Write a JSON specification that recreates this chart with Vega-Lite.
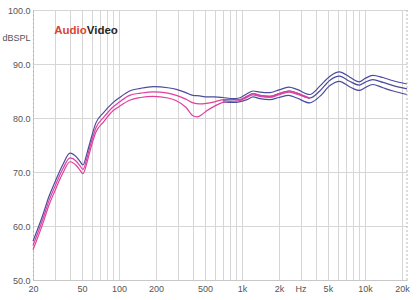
{
  "$schema": "https://vega.github.io/schema/vega-lite/v6.json",
  "width": 374,
  "height": 270,
  "autosize": "none",
  "padding": {"left": 33, "top": 10, "right": 13, "bottom": 20},
  "background": "white",
  "config": {
    "view": {"stroke": null},
    "axis": {"labelFont": "Liberation Sans", "labelFontSize": 9, "labelColor": "#555555", "ticks": false, "title": null, "gridColor": "#d6d6d6", "gridWidth": 1}
  },
  "datasets": {
    "navy": [
      {"f": 20, "db": 57.2, "s": "U"}, {"f": 24, "db": 62.0, "s": "U"}, {"f": 27, "db": 65.5, "s": "U"},
      {"f": 30, "db": 68.0, "s": "U"}, {"f": 35, "db": 71.4, "s": "U"}, {"f": 40, "db": 73.5, "s": "U"},
      {"f": 45, "db": 72.8, "s": "U"}, {"f": 48, "db": 72.0, "s": "U"}, {"f": 51, "db": 71.3, "s": "U"},
      {"f": 55, "db": 73.5, "s": "U"}, {"f": 58, "db": 75.4, "s": "U"}, {"f": 65, "db": 79.1, "s": "U"},
      {"f": 75, "db": 81.0, "s": "U"}, {"f": 89, "db": 82.8, "s": "U"}, {"f": 100, "db": 83.7, "s": "U"},
      {"f": 122, "db": 85.0, "s": "U"}, {"f": 150, "db": 85.5, "s": "U"}, {"f": 190, "db": 85.8, "s": "U"},
      {"f": 250, "db": 85.6, "s": "U"}, {"f": 293, "db": 85.3, "s": "U"}, {"f": 350, "db": 84.7, "s": "U"},
      {"f": 400, "db": 84.2, "s": "U"}, {"f": 453, "db": 84.1, "s": "U"}, {"f": 514, "db": 83.9, "s": "U"},
      {"f": 600, "db": 83.9, "s": "U"}, {"f": 700, "db": 83.8, "s": "U"}, {"f": 850, "db": 83.6, "s": "U"},
      {"f": 950, "db": 83.7, "s": "U"}, {"f": 1100, "db": 84.5, "s": "U"}, {"f": 1230, "db": 85.0, "s": "U"},
      {"f": 1400, "db": 84.8, "s": "U"}, {"f": 1680, "db": 84.7, "s": "U"}, {"f": 2000, "db": 85.2, "s": "U"},
      {"f": 2400, "db": 85.7, "s": "U"}, {"f": 2800, "db": 85.3, "s": "U"}, {"f": 3560, "db": 84.35, "s": "U"},
      {"f": 4300, "db": 85.9, "s": "U"}, {"f": 5200, "db": 87.75, "s": "U"}, {"f": 6200, "db": 88.55, "s": "U"},
      {"f": 7500, "db": 87.6, "s": "U"}, {"f": 9000, "db": 86.7, "s": "U"}, {"f": 10000, "db": 87.3, "s": "U"},
      {"f": 11600, "db": 87.9, "s": "U"}, {"f": 14000, "db": 87.5, "s": "U"}, {"f": 17000, "db": 86.9, "s": "U"},
      {"f": 22000, "db": 86.3, "s": "U"},
      {"f": 700, "db": 83.3, "s": "M"}, {"f": 850, "db": 83.4, "s": "M"}, {"f": 950, "db": 83.4, "s": "M"},
      {"f": 1100, "db": 84.0, "s": "M"}, {"f": 1230, "db": 84.5, "s": "M"}, {"f": 1400, "db": 84.2, "s": "M"},
      {"f": 1680, "db": 84.0, "s": "M"}, {"f": 2000, "db": 84.5, "s": "M"}, {"f": 2400, "db": 85.0, "s": "M"},
      {"f": 2800, "db": 84.6, "s": "M"}, {"f": 3560, "db": 83.7, "s": "M"}, {"f": 4300, "db": 85.0, "s": "M"},
      {"f": 5200, "db": 87.0, "s": "M"}, {"f": 6200, "db": 87.75, "s": "M"}, {"f": 7500, "db": 86.8, "s": "M"},
      {"f": 9000, "db": 86.1, "s": "M"}, {"f": 10000, "db": 86.6, "s": "M"}, {"f": 11600, "db": 87.1, "s": "M"},
      {"f": 14000, "db": 86.6, "s": "M"}, {"f": 17000, "db": 86.0, "s": "M"}, {"f": 22000, "db": 85.4, "s": "M"},
      {"f": 700, "db": 83.0, "s": "L"}, {"f": 850, "db": 82.9, "s": "L"}, {"f": 950, "db": 83.0, "s": "L"},
      {"f": 1100, "db": 83.4, "s": "L"}, {"f": 1230, "db": 83.9, "s": "L"}, {"f": 1400, "db": 83.6, "s": "L"},
      {"f": 1680, "db": 83.4, "s": "L"}, {"f": 2000, "db": 83.8, "s": "L"}, {"f": 2400, "db": 84.2, "s": "L"},
      {"f": 2800, "db": 83.7, "s": "L"}, {"f": 3560, "db": 82.8, "s": "L"}, {"f": 4300, "db": 84.0, "s": "L"},
      {"f": 5200, "db": 86.0, "s": "L"}, {"f": 6200, "db": 86.8, "s": "L"}, {"f": 7500, "db": 85.8, "s": "L"},
      {"f": 9000, "db": 85.1, "s": "L"}, {"f": 10000, "db": 85.6, "s": "L"}, {"f": 11600, "db": 86.2, "s": "L"},
      {"f": 14000, "db": 85.6, "s": "L"}, {"f": 17000, "db": 85.0, "s": "L"}, {"f": 22000, "db": 84.35, "s": "L"}
    ],
    "pink": [
      {"f": 20, "db": 56.4, "s": "A"}, {"f": 24, "db": 61.2, "s": "A"}, {"f": 27, "db": 64.7, "s": "A"},
      {"f": 30, "db": 67.2, "s": "A"}, {"f": 35, "db": 70.6, "s": "A"}, {"f": 40, "db": 72.6, "s": "A"},
      {"f": 45, "db": 72.0, "s": "A"}, {"f": 48, "db": 71.2, "s": "A"}, {"f": 51, "db": 70.5, "s": "A"},
      {"f": 55, "db": 72.6, "s": "A"}, {"f": 58, "db": 74.6, "s": "A"}, {"f": 65, "db": 78.2, "s": "A"},
      {"f": 75, "db": 80.1, "s": "A"}, {"f": 89, "db": 82.0, "s": "A"}, {"f": 100, "db": 82.9, "s": "A"},
      {"f": 122, "db": 84.2, "s": "A"}, {"f": 150, "db": 84.6, "s": "A"}, {"f": 190, "db": 84.85, "s": "A"},
      {"f": 250, "db": 84.6, "s": "A"}, {"f": 293, "db": 84.2, "s": "A"}, {"f": 350, "db": 83.5, "s": "A"},
      {"f": 400, "db": 82.8, "s": "A"}, {"f": 453, "db": 82.6, "s": "A"}, {"f": 514, "db": 82.7, "s": "A"},
      {"f": 600, "db": 83.0, "s": "A"}, {"f": 700, "db": 83.4, "s": "A"}, {"f": 850, "db": 83.5, "s": "A"},
      {"f": 950, "db": 83.4, "s": "A"}, {"f": 1100, "db": 84.0, "s": "A"}, {"f": 1230, "db": 84.5, "s": "A"},
      {"f": 1400, "db": 84.2, "s": "A"}, {"f": 1680, "db": 84.0, "s": "A"}, {"f": 2000, "db": 84.5, "s": "A"},
      {"f": 2400, "db": 85.0, "s": "A"}, {"f": 2800, "db": 84.6, "s": "A"}, {"f": 3560, "db": 83.7, "s": "A"},
      {"f": 20, "db": 55.6, "s": "B"}, {"f": 24, "db": 60.4, "s": "B"}, {"f": 27, "db": 63.9, "s": "B"},
      {"f": 30, "db": 66.4, "s": "B"}, {"f": 35, "db": 69.8, "s": "B"}, {"f": 40, "db": 71.9, "s": "B"},
      {"f": 45, "db": 71.2, "s": "B"}, {"f": 48, "db": 70.4, "s": "B"}, {"f": 51, "db": 69.7, "s": "B"},
      {"f": 55, "db": 71.8, "s": "B"}, {"f": 58, "db": 73.8, "s": "B"}, {"f": 65, "db": 77.4, "s": "B"},
      {"f": 75, "db": 79.3, "s": "B"}, {"f": 89, "db": 81.3, "s": "B"}, {"f": 100, "db": 82.1, "s": "B"},
      {"f": 122, "db": 83.3, "s": "B"}, {"f": 150, "db": 83.8, "s": "B"}, {"f": 190, "db": 84.0, "s": "B"},
      {"f": 250, "db": 83.7, "s": "B"}, {"f": 293, "db": 83.2, "s": "B"}, {"f": 350, "db": 82.0, "s": "B"},
      {"f": 400, "db": 80.4, "s": "B"}, {"f": 430, "db": 80.2, "s": "B"}, {"f": 470, "db": 80.6, "s": "B"},
      {"f": 514, "db": 81.3, "s": "B"}, {"f": 600, "db": 82.2, "s": "B"}, {"f": 700, "db": 82.9, "s": "B"},
      {"f": 850, "db": 83.1, "s": "B"}, {"f": 950, "db": 83.2, "s": "B"}, {"f": 1100, "db": 83.8, "s": "B"},
      {"f": 1230, "db": 84.3, "s": "B"}, {"f": 1400, "db": 84.0, "s": "B"}, {"f": 1680, "db": 83.8, "s": "B"},
      {"f": 2000, "db": 84.3, "s": "B"}, {"f": 2400, "db": 84.8, "s": "B"}, {"f": 2800, "db": 84.4, "s": "B"},
      {"f": 3560, "db": 83.6, "s": "B"}
    ],
    "logo": [{"a": "Audio", "v": "Video"}]
  },
  "layer": [
    {
      "data": {"name": "navy"},
      "transform": [{"filter": "datum.s != 'U'"}],
      "mark": {"type": "line", "interpolate": "monotone", "color": "#4b4b9e", "strokeWidth": 1.2},
      "encoding": {
        "x": {
          "field": "f", "type": "quantitative",
          "scale": {"type": "log", "domain": [20, 22000], "nice": false},
          "axis": {
            "values": [20, 30, 40, 50, 60, 70, 80, 90, 100, 200, 300, 400, 500, 600, 700, 800, 900, 1000, 2000, 3000, 4000, 5000, 6000, 7000, 8000, 9000, 10000, 20000],
            "labelExpr": "datum.value == 20 ? '20' : datum.value == 50 ? '50' : datum.value == 100 ? '100' : datum.value == 200 ? '200' : datum.value == 500 ? '500' : datum.value == 1000 ? '1k' : datum.value == 2000 ? '2k' : datum.value == 3000 ? 'Hz' : datum.value == 5000 ? '5k' : datum.value == 10000 ? '10k' : datum.value == 20000 ? '20k' : ''",
            "labelOverlap": false, "labelFlush": false, "labelPadding": 4,
            "domainColor": "#c8c8c8"
          }
        },
        "y": {
          "field": "db", "type": "quantitative",
          "scale": {"domain": [50, 100], "nice": false, "zero": false},
          "axis": {
            "values": [50, 60, 70, 80, 90, 95, 100],
            "labelExpr": "datum.value == 95 ? 'dBSPL' : format(datum.value, '.1f')",
            "gridOpacity": {"condition": {"test": "datum.value == 95", "value": 0}, "value": 1},
            "labelPadding": 3,
            "domainColor": "#b0b0b0", "domainDash": [2, 2]
          }
        },
        "detail": {"field": "s"}
      }
    },
    {
      "data": {"name": "pink"},
      "mark": {"type": "line", "interpolate": "monotone", "color": "#e0409e", "strokeWidth": 1.2},
      "encoding": {
        "x": {"field": "f", "type": "quantitative"},
        "y": {"field": "db", "type": "quantitative"},
        "detail": {"field": "s"}
      }
    },
    {
      "data": {"name": "navy"},
      "transform": [{"filter": "datum.s == 'U'"}],
      "mark": {"type": "line", "interpolate": "monotone", "color": "#4b4b9e", "strokeWidth": 1.2},
      "encoding": {
        "x": {"field": "f", "type": "quantitative"},
        "y": {"field": "db", "type": "quantitative"}
      }
    },
    {
      "data": {"name": "logo"},
      "mark": {"type": "rule", "color": "#b8b8b8", "strokeDash": [2, 2]},
      "encoding": {"x": {"datum": 22000, "type": "quantitative"}}
    },
    {
      "data": {"name": "logo"},
      "mark": {"type": "text", "align": "right", "baseline": "middle", "font": "Liberation Sans Narrow, Liberation Sans", "fontWeight": "bold", "fontSize": 11.5, "fill": "#dd4430"},
      "encoding": {"x": {"datum": 54.7, "type": "quantitative"}, "y": {"datum": 96.2, "type": "quantitative"}, "text": {"field": "a"}}
    },
    {
      "data": {"name": "logo"},
      "mark": {"type": "text", "align": "left", "baseline": "middle", "font": "Liberation Sans Narrow, Liberation Sans", "fontWeight": "bold", "fontSize": 11.5, "fill": "#262626"},
      "encoding": {"x": {"datum": 54.7, "type": "quantitative"}, "y": {"datum": 96.2, "type": "quantitative"}, "text": {"field": "v"}}
    }
  ]
}
